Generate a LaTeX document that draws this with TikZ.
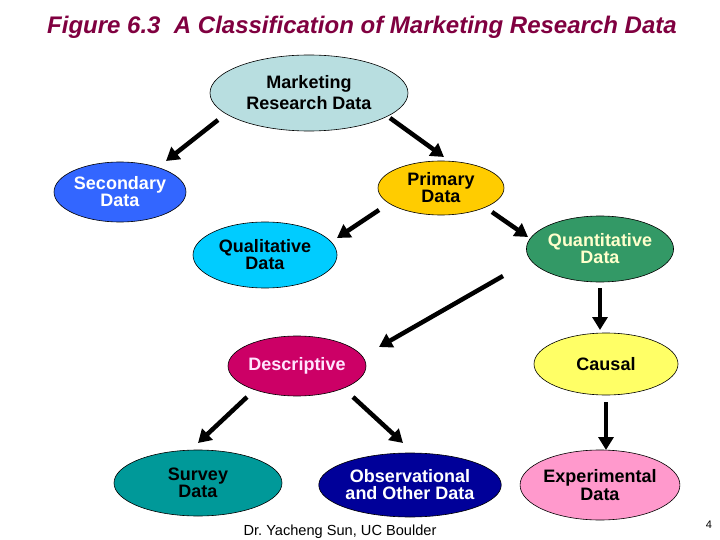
\documentclass[tikz,border=0pt]{standalone}
\usepackage{fontspec}
\setmainfont{Liberation Sans}
\usetikzlibrary{shapes.geometric,arrows.meta}
\definecolor{titlec}{RGB}{128,0,64}
\definecolor{mrdc}{RGB}{184,222,224}
\definecolor{secc}{RGB}{51,102,255}
\definecolor{pric}{RGB}{255,204,0}
\definecolor{qualc}{RGB}{0,204,255}
\definecolor{quantc}{RGB}{51,153,102}
\definecolor{quanttext}{RGB}{255,255,204}
\definecolor{descc}{RGB}{204,0,102}
\definecolor{desctext}{RGB}{255,229,255}
\definecolor{causc}{RGB}{255,255,102}
\definecolor{survc}{RGB}{0,153,153}
\definecolor{obsc}{RGB}{0,0,153}
\definecolor{expc}{RGB}{255,153,204}
\begin{document}
\begin{tikzpicture}[x=1pt,y=-1pt,
  blob/.style={ellipse,draw=black,line width=0.6pt,inner sep=0pt,align=center},
  f17/.style={font=\fontsize{18}{#1}\selectfont\bfseries},
  arr/.style={line width=4.5pt,-{Triangle[length=13pt,width=15pt]}}]
\useasboundingbox[fill=white] (0,0) rectangle (720,540);

\node[font=\fontsize{24}{24}\selectfont\bfseries\itshape,text=titlec] (title) at (362,27)
  {Figure 6.3\ \ A Classification of Marketing Research Data};

\node[blob,fill=mrdc,minimum width=198,minimum height=76,f17=21] (mrd) at (309,93) {Marketing\\Research Data};
\node[blob,fill=secc,text=white,minimum width=132,minimum height=60,f17=17] (sec) at (120,192) {Secondary\\Data};
\node[blob,fill=pric,minimum width=126,minimum height=54,f17=17] (pri) at (441,188) {Primary\\Data};
\node[blob,fill=qualc,text=black,minimum width=144,minimum height=66,f17=15] (qual) at (265,255) {Qualitative\\Data};
\node[blob,fill=quantc,text=quanttext,minimum width=144,minimum height=66,f17=15] (quant) at (600,249) {Quantitative\\Data};
\node[blob,fill=descc,text=desctext,minimum width=138,minimum height=60,f17=17] (desc) at (297,366) {Descriptive};
\node[blob,fill=causc,minimum width=144,minimum height=62,f17=17] (caus) at (606,364) {Causal};
\node[blob,fill=survc,text=black,minimum width=168,minimum height=66,f17=17] (surv) at (198,483) {Survey\\Data};
\node[blob,fill=obsc,text=white,minimum width=174,minimum height=64,f17=17] (obs) at (410,485) {Observational\\and Other Data};
\node[blob,fill=expc,minimum width=156,minimum height=70,f17=18] (exp) at (600,485) {Experimental\\Data};

\node[font=\fontsize{14.6}{15}\selectfont,anchor=base] (foot) at (340,535) {Dr.\ Yacheng Sun, UC Boulder};
\node[font=\fontsize{11}{11}\selectfont] (pg) at (709,525) {4};

\coordinate (a1s) at (218,120); \coordinate (a1e) at (166,161);
\coordinate (a2s) at (390,118); \coordinate (a2e) at (444,157);
\coordinate (a3s) at (379,210); \coordinate (a3e) at (337,238);
\coordinate (a4s) at (492,212); \coordinate (a4e) at (528,237);
\coordinate (a5s) at (503,276); \coordinate (a5e) at (379,347);
\coordinate (a6s) at (600,288); \coordinate (a6e) at (600,330);
\coordinate (a7s) at (247,397); \coordinate (a7e) at (198,443);
\coordinate (a8s) at (353,397); \coordinate (a8e) at (403,443);
\coordinate (a9s) at (606,402); \coordinate (a9e) at (606,450);

\draw[arr] (a1s) -- (a1e);
\draw[arr] (a2s) -- (a2e);
\draw[arr] (a3s) -- (a3e);
\draw[arr] (a4s) -- (a4e);
\draw[arr] (a5s) -- (a5e);
\draw[arr] (a6s) -- (a6e);
\draw[arr] (a7s) -- (a7e);
\draw[arr] (a8s) -- (a8e);
\draw[arr] (a9s) -- (a9e);
\end{tikzpicture}
\end{document}
